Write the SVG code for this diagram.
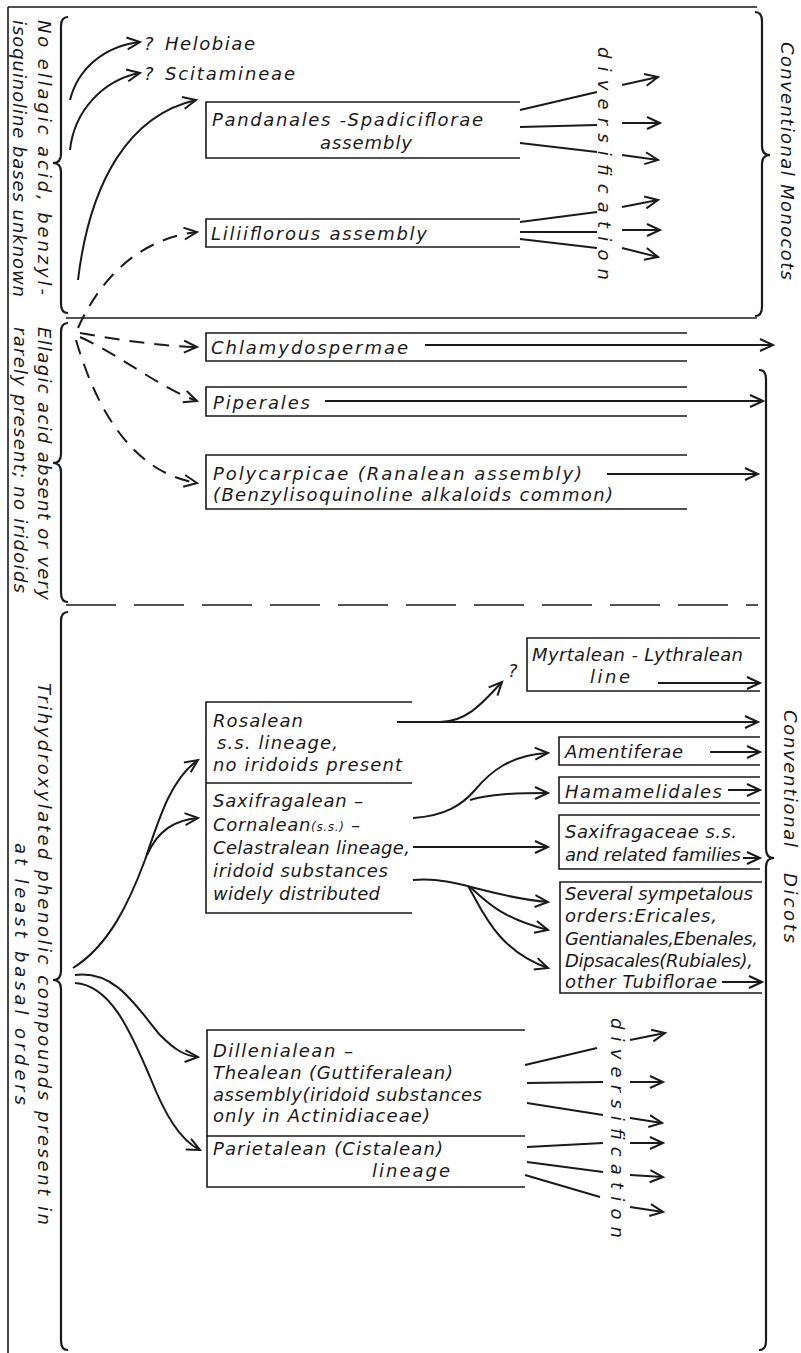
<svg xmlns="http://www.w3.org/2000/svg" width="801" height="1353" viewBox="0 0 801 1353">
<style>
.t{font-family:"DejaVu Sans","Liberation Sans",sans-serif;font-style:oblique;font-size:18px;fill:#1a1a1a}
.ln{fill:none;stroke:#1a1a1a;stroke-width:1.6}
.c{fill:none;stroke:#1a1a1a;stroke-width:2}
.d{fill:none;stroke:#1a1a1a;stroke-width:2;stroke-dasharray:15 10}
.br{fill:none;stroke:#1a1a1a;stroke-width:2.2}
.a{marker-end:url(#ah)}
</style>
<defs>
<marker id="ah" markerUnits="userSpaceOnUse" viewBox="0 0 14 12" refX="13" refY="6" markerWidth="14" markerHeight="12" orient="auto" overflow="visible">
<path d="M0,0 L13,6 L0,12" fill="none" stroke="#1a1a1a" stroke-width="2"/>
</marker>
</defs>
<rect width="801" height="1353" fill="#ffffff"/>

<g id="frame">
<path class="ln" d="M8,7 H757 M8,7 V1353"/>
<path class="ln" d="M66,318 H757"/>
<path class="ln" d="M66,605 H758" stroke-dasharray="50 18"/>
</g>

<g id="braces">
<path class="br" d="M68,17 Q61,17 61,26 L61,154 Q61,163 53,163 Q61,163 61,172 L61,304 Q61,313 68,313"/>
<path class="br" d="M68,323 Q61,323 61,332 L61,454 Q61,463 53,463 Q61,463 61,472 L61,593 Q61,602 68,602"/>
<path class="br" d="M68,612 Q61,612 61,621 L61,971 Q61,980 53,980 Q61,980 61,989 L61,1341 Q61,1350 68,1350"/>
<path class="br" d="M755,12 Q762,12 762,21 L762,146 Q762,155 770,155 Q762,155 762,164 L762,307 Q762,316 755,316"/>
<path class="br" d="M759,370 Q766,370 766,379 L766,849 Q766,858 774,858 Q766,858 766,867 L766,1341 Q766,1350 759,1350"/>
</g>

<g id="side-labels">
<text class="t" transform="translate(38,20) rotate(90)" textLength="275" lengthAdjust="spacing">No ellagic acid, benzyl-</text>
<text class="t" transform="translate(13,20) rotate(90)" textLength="277" lengthAdjust="spacing">isoquinoline bases unknown</text>
<text class="t" transform="translate(38,327) rotate(90)" textLength="273" lengthAdjust="spacing">Ellagic acid absent or very</text>
<text class="t" transform="translate(14,327) rotate(90)" textLength="266" lengthAdjust="spacing">rarely present; no iridoids</text>
<text class="t" transform="translate(38,683) rotate(90)" textLength="542" lengthAdjust="spacing">Trihydroxylated phenolic compounds present in</text>
<text class="t" transform="translate(15,843) rotate(90)" textLength="262" lengthAdjust="spacing">at least basal orders</text>
<text class="t" transform="translate(781,42) rotate(90)" textLength="238" lengthAdjust="spacing">Conventional Monocots</text>
<text class="t" transform="translate(784,710) rotate(90)" textLength="137" lengthAdjust="spacing">Conventional</text>
<text class="t" transform="translate(784,873) rotate(90)" textLength="70" lengthAdjust="spacing">Dicots</text>
<text class="t" transform="translate(598,47) rotate(90)" textLength="233" lengthAdjust="spacing">diversification</text>
<text class="t" transform="translate(611,1018) rotate(90)" textLength="220" lengthAdjust="spacing">diversification</text>
</g>

<g id="connectors">
<path class="c a" d="M70,100 C78,68 105,46 140,42"/>
<path class="c a" d="M70,150 C74,112 102,80 140,73"/>
<path class="c a" d="M78,280 C90,180 130,115 196,100"/>
<path class="d a" d="M78,328 C95,290 130,240 197,232"/>
<path class="d a" d="M80,333 C120,340 160,346 197,347"/>
<path class="d a" d="M80,337 C120,355 160,388 197,401"/>
<path class="d a" d="M76,340 C95,405 130,472 197,483"/>

<path class="c" d="M520,110 L597,92 M520,127 L597,125 M520,143 L597,152 M520,222 L597,212 M520,232 L597,232 M520,239 L597,248"/>
<path class="c a" d="M622,85 L658,77"/>
<path class="c a" d="M622,123 L660,123"/>
<path class="c a" d="M622,155 L658,160"/>
<path class="c a" d="M622,207 L658,200"/>
<path class="c a" d="M622,230 L660,230"/>
<path class="c a" d="M622,248 L658,257"/>

<path class="c a" d="M425,345 H773"/>
<path class="c a" d="M325,401 H763"/>
<path class="c a" d="M607,474 H758"/>

<path class="c a" d="M73,968 C110,945 130,900 145,860 C160,815 172,778 198,760"/>
<path class="c a" d="M147,855 C158,830 175,820 198,818"/>
<path class="c a" d="M75,975 C115,970 135,1005 160,1035 C175,1050 185,1056 198,1057"/>
<path class="c a" d="M75,983 C110,985 130,1030 150,1077 C165,1115 180,1140 200,1150"/>

<path class="c a" d="M397,722 H758"/>
<path class="c a" d="M440,722 C468,722 485,700 502,682"/>
<path class="c a" d="M658,683 H760"/>
<path class="c a" d="M413,818 C445,816 462,805 475,790 C490,772 510,755 548,753"/>
<path class="c a" d="M470,800 C490,794 515,793 548,793"/>
<path class="c a" d="M710,752 H760"/>
<path class="c a" d="M728,790 H760"/>
<path class="c a" d="M413,847 H548"/>
<path class="c a" d="M743,858 H760"/>
<path class="c a" d="M413,880 C440,878 460,884 475,888 C495,893 520,900 548,902"/>
<path class="c a" d="M470,887 C485,900 500,918 548,930"/>
<path class="c a" d="M468,886 C480,905 495,950 548,968"/>
<path class="c a" d="M722,982 H762"/>

<path class="c" d="M525,1065 L597,1048 M527,1083 L603,1082 M527,1103 L603,1115 M527,1147 L603,1143 M527,1162 L603,1172 M525,1175 L600,1197"/>
<path class="c a" d="M630,1040 L665,1033"/>
<path class="c a" d="M630,1082 L663,1082"/>
<path class="c a" d="M630,1118 L662,1123"/>
<path class="c a" d="M630,1143 L663,1143"/>
<path class="c a" d="M630,1175 L663,1177"/>
<path class="c a" d="M630,1207 L663,1212"/>
</g>

<g id="helobiae">
<text class="t" x="144" y="50">?</text>
<text class="t" x="165" y="50" textLength="90" lengthAdjust="spacing">Helobiae</text>
</g>
<g id="scitamineae">
<text class="t" x="144" y="80">?</text>
<text class="t" x="165" y="80" textLength="130" lengthAdjust="spacing">Scitamineae</text>
</g>
<g id="pandanales">
<path class="ln" d="M520,102 H206 V158 H520"/>
<text class="t" x="212" y="126" textLength="271" lengthAdjust="spacing">Pandanales -Spadiciflorae</text>
<text class="t" x="320" y="149" textLength="92" lengthAdjust="spacing">assembly</text>
</g>
<g id="liliiflorous">
<path class="ln" d="M520,219 H206 V247 H520"/>
<text class="t" x="211" y="240" textLength="216" lengthAdjust="spacing">Liliiflorous assembly</text>
</g>
<g id="chlamydospermae">
<path class="ln" d="M687,333 H206 V361 H687"/>
<text class="t" x="211" y="354" textLength="197" lengthAdjust="spacing">Chlamydospermae</text>
</g>
<g id="piperales">
<path class="ln" d="M687,387 H206 V416 H687"/>
<text class="t" x="213" y="409" textLength="97" lengthAdjust="spacing">Piperales</text>
</g>
<g id="polycarpicae">
<path class="ln" d="M687,455 H206 V509 H687"/>
<text class="t" x="213" y="480" textLength="369" lengthAdjust="spacing">Polycarpicae (Ranalean assembly)</text>
<text class="t" x="213" y="501" textLength="400" lengthAdjust="spacing">(Benzylisoquinoline alkaloids common)</text>
</g>
<g id="rosalean">
<path class="ln" d="M412,702 H206 V913 H412 M206,783 H412"/>
<text class="t" x="213" y="727" textLength="90" lengthAdjust="spacing">Rosalean</text>
<text class="t" x="217" y="749" textLength="121" lengthAdjust="spacing">s.s. lineage,</text>
<text class="t" x="213" y="771" textLength="189" lengthAdjust="spacing">no iridoids present</text>
</g>
<g id="saxifragalean">
<text class="t" x="213" y="807" textLength="150" lengthAdjust="spacing">Saxifragalean –</text>
<text class="t" x="213" y="831" textLength="147" lengthAdjust="spacing">Cornalean<tspan font-size="12">(s.s.)</tspan> –</text>
<text class="t" x="213" y="854" textLength="197" lengthAdjust="spacing">Celastralean lineage,</text>
<text class="t" x="213" y="877" textLength="175" lengthAdjust="spacing">iridoid substances</text>
<text class="t" x="213" y="900" textLength="167" lengthAdjust="spacing">widely distributed</text>
</g>
<g id="myrtalean">
<text class="t" x="508" y="677">?</text>
<path class="ln" d="M760,638 H527 V691 H760"/>
<text class="t" x="532" y="661" textLength="211" lengthAdjust="spacing">Myrtalean - Lythralean</text>
<text class="t" x="590" y="683" textLength="40" lengthAdjust="spacing">line</text>
</g>
<g id="amentiferae">
<path class="ln" d="M760,737 H559 V765 H760"/>
<text class="t" x="565" y="758" textLength="118" lengthAdjust="spacing">Amentiferae</text>
</g>
<g id="hamamelidales">
<path class="ln" d="M760,777 H559 V803 H760"/>
<text class="t" x="565" y="798" textLength="157" lengthAdjust="spacing">Hamamelidales</text>
</g>
<g id="saxifragaceae">
<path class="ln" d="M760,815 H559 V869 H760"/>
<text class="t" x="565" y="838" textLength="172" lengthAdjust="spacing">Saxifragaceae s.s.</text>
<text class="t" x="565" y="861" textLength="176" lengthAdjust="spacing">and related families</text>
</g>
<g id="sympetalous">
<path class="ln" d="M762,882 H560 V993 H762"/>
<text class="t" x="565" y="900" textLength="188" lengthAdjust="spacing">Several sympetalous</text>
<text class="t" x="565" y="922" textLength="152" lengthAdjust="spacing">orders:Ericales,</text>
<text class="t" x="565" y="945" textLength="193" lengthAdjust="spacing">Gentianales,Ebenales,</text>
<text class="t" x="565" y="967" textLength="188" lengthAdjust="spacing">Dipsacales(Rubiales),</text>
<text class="t" x="565" y="988" textLength="152" lengthAdjust="spacing">other Tubiflorae</text>
</g>
<g id="dillenialean">
<path class="ln" d="M525,1030 H207 V1187 H525 M207,1136 H525"/>
<text class="t" x="213" y="1057" textLength="140" lengthAdjust="spacing">Dillenialean –</text>
<text class="t" x="213" y="1079" textLength="240" lengthAdjust="spacing">Thealean (Guttiferalean)</text>
<text class="t" x="213" y="1101" textLength="269" lengthAdjust="spacing">assembly(iridoid substances</text>
<text class="t" x="213" y="1122" textLength="217" lengthAdjust="spacing">only in Actinidiaceae)</text>
</g>
<g id="parietalean">
<text class="t" x="213" y="1155" textLength="230" lengthAdjust="spacing">Parietalean (Cistalean)</text>
<text class="t" x="372" y="1177" textLength="78" lengthAdjust="spacing">lineage</text>
</g>
</svg>
